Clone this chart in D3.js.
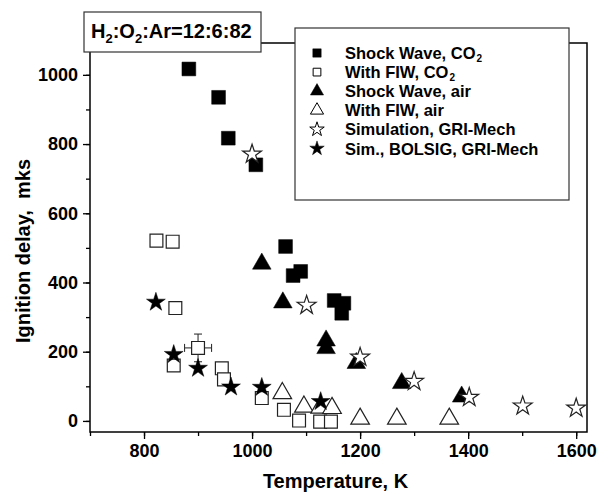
<!DOCTYPE html>
<html>
<head>
<meta charset="utf-8">
<script src="https://d3js.org/d3.v7.min.js"></script>
<style>
  body { margin: 0; background: #fff; }
  text { font-family: "Liberation Sans", Arial, sans-serif; font-weight: bold; fill: #000; }
</style>
</head>
<body>
<div id="chart"></div>
<script>
// data: [temperature K, delay mks]
var shockCO2 = [[883, 1017], [938, 935], [956, 817], [1007, 740], [1062, 504],
                [1076, 420], [1090, 432], [1152, 348], [1170, 340], [1166, 311]];
var fiwCO2 = [[823, 521], [853, 518], [858, 326], [855, 160], [900, 211],
              [944, 152], [948, 120], [1018, 66], [1059, 32], [1087, 1],
              [1126, -2], [1146, -2]];
var shockAir = [[1018, 454], [1057, 342], [1137, 232], [1137, 210], [1193, 167],
                [1277, 109], [1388, 70]];
var fiwAir = [[1056, 80], [1096, 41], [1126, 38], [1148, 37], [1200, 6],
              [1268, 6], [1365, 6]];
var simGRI = [[1000, 771], [1101, 334], [1200, 184], [1300, 114], [1402, 68],
              [1501, 43], [1600, 37]];
var simBolsig = [[822, 343], [855, 192], [900, 152], [961, 98], [1018, 97], [1127, 56]];
// one point carries error bars: [T, delay, dT, dDelay]
var errPoints = [[900, 211, 25, 40]];

var xTicks = [800, 1000, 1200, 1400, 1600];
var yTicks = [0, 200, 400, 600, 800, 1000];

var W = 603, H = 495;
var margin = {top: 43, right: 16, bottom: 63, left: 90};
var width = W - margin.left - margin.right,
    height = H - margin.top - margin.bottom;

var svg = d3.select("#chart").append("svg")
    .attr("width", W).attr("height", H);
var g = svg.append("g")
    .attr("transform", "translate(" + margin.left + "," + margin.top + ")");

var x = d3.scaleLinear().domain([700, 1620]).range([0, width]);
var y = d3.scaleLinear().domain([-32, 1092]).range([height, 0]);

// frame
g.append("rect").attr("width", width).attr("height", height)
    .attr("fill", "none").attr("stroke", "#000").attr("stroke-width", 1.5);

// axes: minor ticks, then major ticks with labels
var xAxis = g.append("g").attr("transform", "translate(0," + height + ")");
xAxis.call(d3.axisBottom(x).tickValues(d3.range(700, 1601, 100)).tickSize(4).tickFormat(""));
xAxis.append("g").call(d3.axisBottom(x).tickValues(xTicks).tickSize(7).tickPadding(5)
    .tickFormat(d3.format("d")));
var yAxis = g.append("g");
yAxis.call(d3.axisLeft(y).tickValues(d3.range(0, 1001, 100)).tickSize(4).tickFormat(""));
yAxis.append("g").call(d3.axisLeft(y).tickValues(yTicks).tickSize(7).tickPadding(5)
    .tickFormat(d3.format("d")));

g.selectAll(".domain").remove();
g.selectAll(".tick line").attr("stroke", "#000").attr("stroke-width", 1.3);
g.selectAll(".tick text").style("font-size", "18px").style("font-family", "'Liberation Sans', Arial, sans-serif")
    .style("font-weight", "bold").attr("fill", "#000");

// axis titles
svg.append("text").attr("x", margin.left + width / 2 - 3).attr("y", 488)
    .attr("text-anchor", "middle").style("font-size", "20px").text("Temperature, K");
svg.append("text").attr("transform", "translate(30," + (margin.top + 208) + ") rotate(-90)")
    .attr("text-anchor", "middle").style("font-size", "20px")
    .text("Ignition delay,\u00a0 mks");

// error bars
var eb = g.append("g").attr("stroke", "#333").attr("stroke-width", 1.1);
errPoints.forEach(function(d) {
  eb.append("line").attr("x1", x(d[0] - d[2])).attr("x2", x(d[0] + d[2]))
      .attr("y1", y(d[1])).attr("y2", y(d[1]));
  eb.append("line").attr("x1", x(d[0])).attr("x2", x(d[0]))
      .attr("y1", y(d[1] - d[3])).attr("y2", y(d[1] + d[3]));
  [[x(d[0] - d[2]), y(d[1]), 0], [x(d[0] + d[2]), y(d[1]), 0],
   [x(d[0]), y(d[1] - d[3]), 1], [x(d[0]), y(d[1] + d[3]), 1]].forEach(function(c) {
    if (c[2]) eb.append("line").attr("x1", c[0] - 4).attr("x2", c[0] + 4).attr("y1", c[1]).attr("y2", c[1]);
    else eb.append("line").attr("x1", c[0]).attr("x2", c[0]).attr("y1", c[1] - 4).attr("y2", c[1] + 4);
  });
});

var series = [
  {name: "Shock Wave, CO", sub: "2", data: shockCO2, type: d3.symbolSquare, size: 190, filled: true},
  {name: "With FIW, CO", sub: "2", data: fiwCO2, type: d3.symbolSquare, size: 165, filled: false},
  {name: "Shock Wave, air", data: shockAir, type: d3.symbolTriangle, size: 150, filled: true},
  {name: "With FIW, air", data: fiwAir, type: d3.symbolTriangle, size: 150, filled: false},
  {name: "Simulation, GRI-Mech", data: simGRI, type: d3.symbolStar, size: 110, filled: false},
  {name: "Sim., BOLSIG, GRI-Mech", data: simBolsig, type: d3.symbolStar, size: 110, filled: true}
];

series.forEach(function(s) {
  g.append("g").selectAll("path").data(s.data).enter().append("path")
      .attr("d", d3.symbol().type(s.type).size(s.size))
      .attr("transform", function(d) { return "translate(" + x(d[0]) + "," + y(d[1]) + ")"; })
      .attr("fill", s.filled ? "#000" : "#fff")
      .attr("stroke", s.filled ? "#000" : "#222")
      .attr("stroke-width", s.filled ? 0.5 : 1.2);
});

// title box
var tb = svg.append("g");
tb.append("rect").attr("x", 84).attr("y", 12).attr("width", 177).attr("height", 40)
    .attr("fill", "#fff").attr("stroke", "#333").attr("stroke-width", 1.2);
var tt = tb.append("text").attr("x", 91).attr("y", 38).style("font-size", "20px");
tt.append("tspan").text("H");
tt.append("tspan").attr("dy", 5).style("font-size", "13px").text("2");
tt.append("tspan").attr("dy", -5).text(":O");
tt.append("tspan").attr("dy", 5).style("font-size", "13px").text("2");
tt.append("tspan").attr("dy", -5).text(":Ar=12:6:82");

// legend
var lg = svg.append("g");
lg.append("rect").attr("x", 295).attr("y", 28).attr("width", 274).attr("height", 172)
    .attr("fill", "#fff").attr("stroke", "#333").attr("stroke-width", 1.2);
var legendSizes = [70, 60, 75, 75, 65, 65];
series.forEach(function(s, i) {
  var cy = 53 + i * 19.1;
  lg.append("path").attr("d", d3.symbol().type(s.type).size(legendSizes[i]))
      .attr("transform", "translate(317," + cy + ")")
      .attr("fill", s.filled ? "#000" : "#fff")
      .attr("stroke", "#000").attr("stroke-width", s.filled ? 0.5 : 1);
  var t = lg.append("text").attr("x", 345).attr("y", cy + 6).style("font-size", "16.5px");
  t.append("tspan").text(s.name);
  // subscript as its own small text so rows stay apart
  if (s.sub) {
    var w = t.node().getComputedTextLength();
    lg.append("text").attr("x", 346 + w).attr("y", cy + 9).style("font-size", "10px").text(s.sub);
  }
});
</script>
</body>
</html>
